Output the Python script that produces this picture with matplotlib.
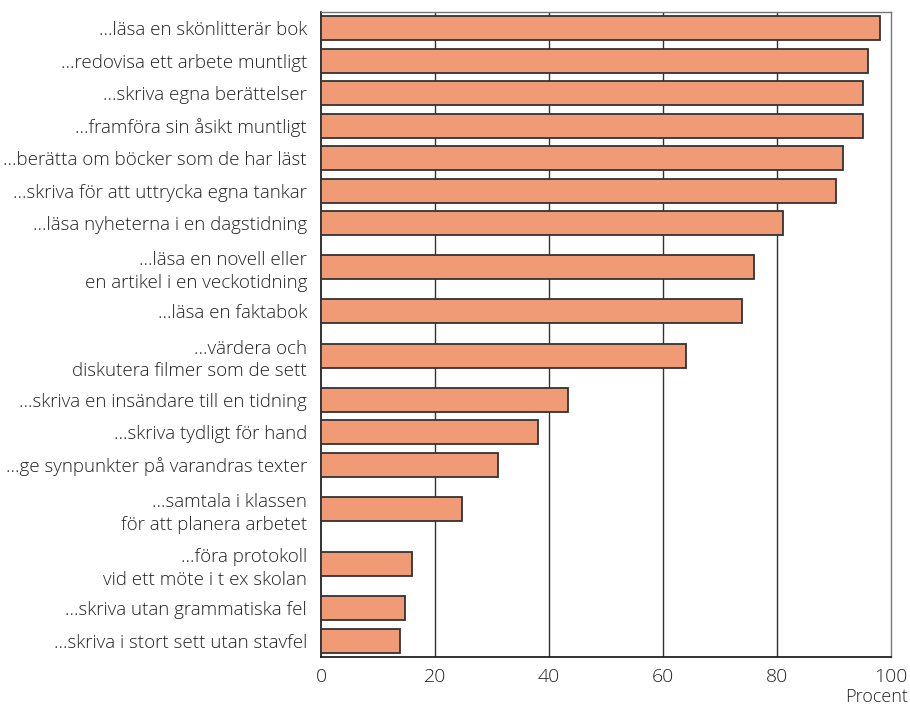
import matplotlib.pyplot as plt

plt.rcParams['font.family'] = ['Open Sans', 'DejaVu Sans']

labels = [
    "...läsa en skönlitterär bok",
    "...redovisa ett arbete muntligt",
    "...skriva egna berättelser",
    "...framföra sin åsikt muntligt",
    "...berätta om böcker som de har läst",
    "...skriva för att uttrycka egna tankar",
    "...läsa nyheterna i en dagstidning",
    "...läsa en novell eller\nen artikel i en veckotidning",
    "...läsa en faktabok",
    "...värdera och\ndiskutera filmer som de sett",
    "...skriva en insändare till en tidning",
    "...skriva tydligt för hand",
    "...ge synpunkter på varandras texter",
    "...samtala i klassen\nför att planera arbetet",
    "...föra protokoll\nvid ett möte i t ex skolan",
    "...skriva utan grammatiska fel",
    "...skriva i stort sett utan stavfel",
]
values = [98, 96, 95, 95, 91.5, 90.3, 81, 76, 73.8, 64, 43.3, 38, 31, 24.7, 16, 14.8, 13.8]

# radhöjd beroende på antal textrader
slot = [32.5 if l.count("\n") == 0 else 55.5 for l in labels]
pos = []
y = 0
for s in slot:
    pos.append(y + s / 2)
    y += s
total = y

fig = plt.figure(figsize=(9.1, 7.07), dpi=100)
ax = fig.add_axes([321 / 910, 50 / 707, 570 / 910, 645 / 707])

ax.barh(pos, values, height=24, color="#F09A76", edgecolor="#333333",
        linewidth=1.3, zorder=3)

ax.set_xlim(0, 100)
ax.set_ylim(total, 0)
ax.set_xticks([0, 20, 40, 60, 80, 100])
ax.set_yticks(pos)
ax.set_yticklabels(labels, fontsize=13.5, color="#222222", fontweight="light",
                   linespacing=1.35)
ax.tick_params(axis="y", length=0, pad=10)
ax.tick_params(axis="x", length=0, pad=8, labelsize=14, labelcolor="#222222")
for t in ax.get_xticklabels():
    t.set_fontweight("light")

for x in [20, 40, 60, 80]:
    ax.axvline(x, color="#333333", linewidth=1.0, zorder=1)

for side in ["left", "bottom"]:
    ax.spines[side].set_color("#222222")
    ax.spines[side].set_linewidth(1.3)
for side in ["right", "top"]:
    ax.spines[side].set_color("#777777")
    ax.spines[side].set_linewidth(1.0)

fig.text(908 / 910, 1 - 697 / 707, "Procent", ha="right", va="center",
         fontsize=13, fontweight="light", color="#222222")

fig.savefig("out.png", dpi=100)
